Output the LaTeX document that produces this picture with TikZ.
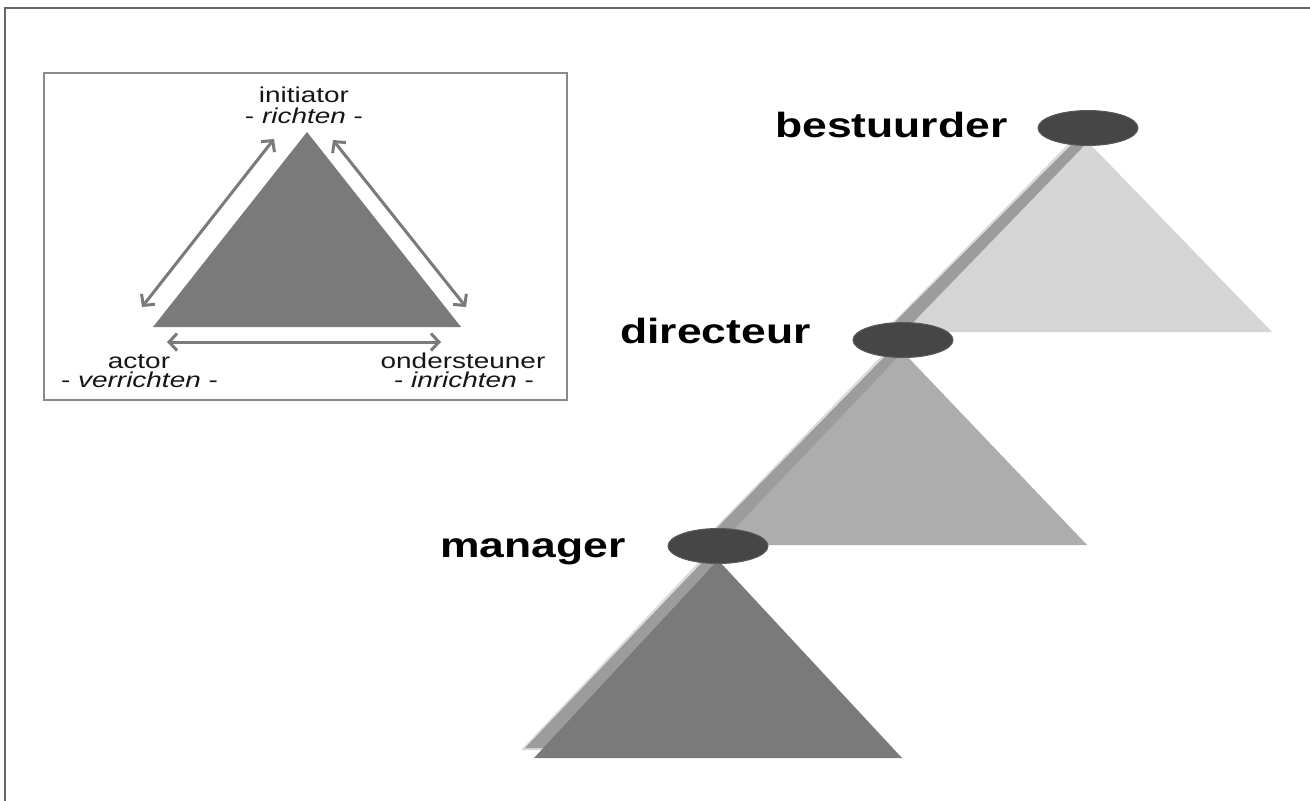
\documentclass[tikz,border=0pt]{standalone}
\usepackage{fontspec}
\setmainfont{Liberation Sans}
\usetikzlibrary{arrows.meta,shapes.geometric}
\definecolor{frame}{HTML}{666666}
\definecolor{boxline}{HTML}{8A8A8A}
\definecolor{tridark}{HTML}{7A7A7A}
\definecolor{trimid}{HTML}{ADADAD}
\definecolor{trilight}{HTML}{D5D5D5}
\definecolor{shadowgray}{HTML}{9C9C9C}
\definecolor{arrowgray}{HTML}{7A7A7A}
\definecolor{knob}{HTML}{464646}
\definecolor{knobline}{HTML}{5A5A5A}
\definecolor{txt}{HTML}{161616}
\tikzset{
  biglabel/.style={font=\fontsize{35}{40}\selectfont\bfseries, text=black, inner sep=0pt, xscale=1.27},
  smalllabel/.style={font=\fontsize{21.5}{24}\selectfont, text=txt, inner sep=0pt, xscale=1.3},
  knobnode/.style={ellipse, fill=knob, draw=knobline, line width=1pt, minimum width=100pt, minimum height=35pt, inner sep=0pt},
  twoarrow/.style={draw=arrowgray, line width=3pt, {Straight Barb[length=8pt,width=17pt]}-{Straight Barb[length=8pt,width=17pt]}},
}
% band shadow along the left edge of a big triangle: #1 = apex x, #2 = apex y, #3 = base y
\newcommand{\leftband}[3]{%
  \fill[shadowgray, opacity=0.35] (#1-9,#2-9) -- (#1-197,#3-8) -- (#1-150,#3-8) -- (#1,#2) -- cycle;
  \fill[shadowgray] (#1-7,#2-7) -- (#1-193,#3-10) -- (#1-150,#3-10) -- (#1,#2) -- cycle;
}
\begin{document}
\begin{tikzpicture}[x=1pt,y=-1pt]
\useasboundingbox (0,0) rectangle (1310,801);
\fill[white] (0,0) rectangle (1310,801);
% outer frame (top and left only)
\draw[frame, line width=2.5pt] (5,801) -- (5,8) -- (1310,8);

% ---------- inset ----------
\draw[boxline, line width=1.5pt] (44,73) rectangle (567,400);
\coordinate (ia) at (307,132);
\coordinate (il) at (153,327);
\coordinate (ir) at (461,327);
\fill[tridark] (ia) -- (il) -- (ir) -- cycle;
\coordinate (la1) at (142,307); \coordinate (la2) at (274,139);
\coordinate (ra1) at (333,140); \coordinate (ra2) at (466,307);
\coordinate (ba1) at (167,342); \coordinate (ba2) at (441,342);
\draw[twoarrow] (la1) -- (la2);
\draw[twoarrow] (ra1) -- (ra2);
\draw[twoarrow] (ba1) -- (ba2);
\node[smalllabel, anchor=base] (tinit) at (304,102) {initiator};
\node[smalllabel, anchor=base] (trich) at (304,123) {- \textit{richten} -};
\node[smalllabel, anchor=base] (tact) at (139,368) {actor};
\node[smalllabel, anchor=base] (tverr) at (139.5,387) {- \textit{verrichten} -};
\node[smalllabel, anchor=base] (tond) at (463,368) {ondersteuner};
\node[smalllabel, anchor=base] (tinr) at (464,387) {- \textit{inrichten} -};

% ---------- big triangles ----------
% bestuurder
\leftband{1088}{142}{332}
\fill[trilight] (1088,142) -- (904,332) -- (1272,332) -- cycle;
% directeur
\leftband{903}{352}{545}
\fill[trimid] (903,352) -- (719,545) -- (1087,545) -- cycle;
% manager
\leftband{718}{560}{758}
\fill[tridark] (718,560) -- (534,758) -- (902,758) -- cycle;

% knobs
\node[knobnode] (kb) at (1088,128) {};
\node[knobnode] (kd) at (903,340) {};
\node[knobnode] (km) at (718,546) {};

% labels
\node[biglabel, anchor=base west] (lb) at (775,137) {bestuurder};
\node[biglabel, anchor=base west] (ld) at (620,343) {directeur};
\node[biglabel, anchor=base west] (lm) at (440,557) {manager};
\end{tikzpicture}
\end{document}
